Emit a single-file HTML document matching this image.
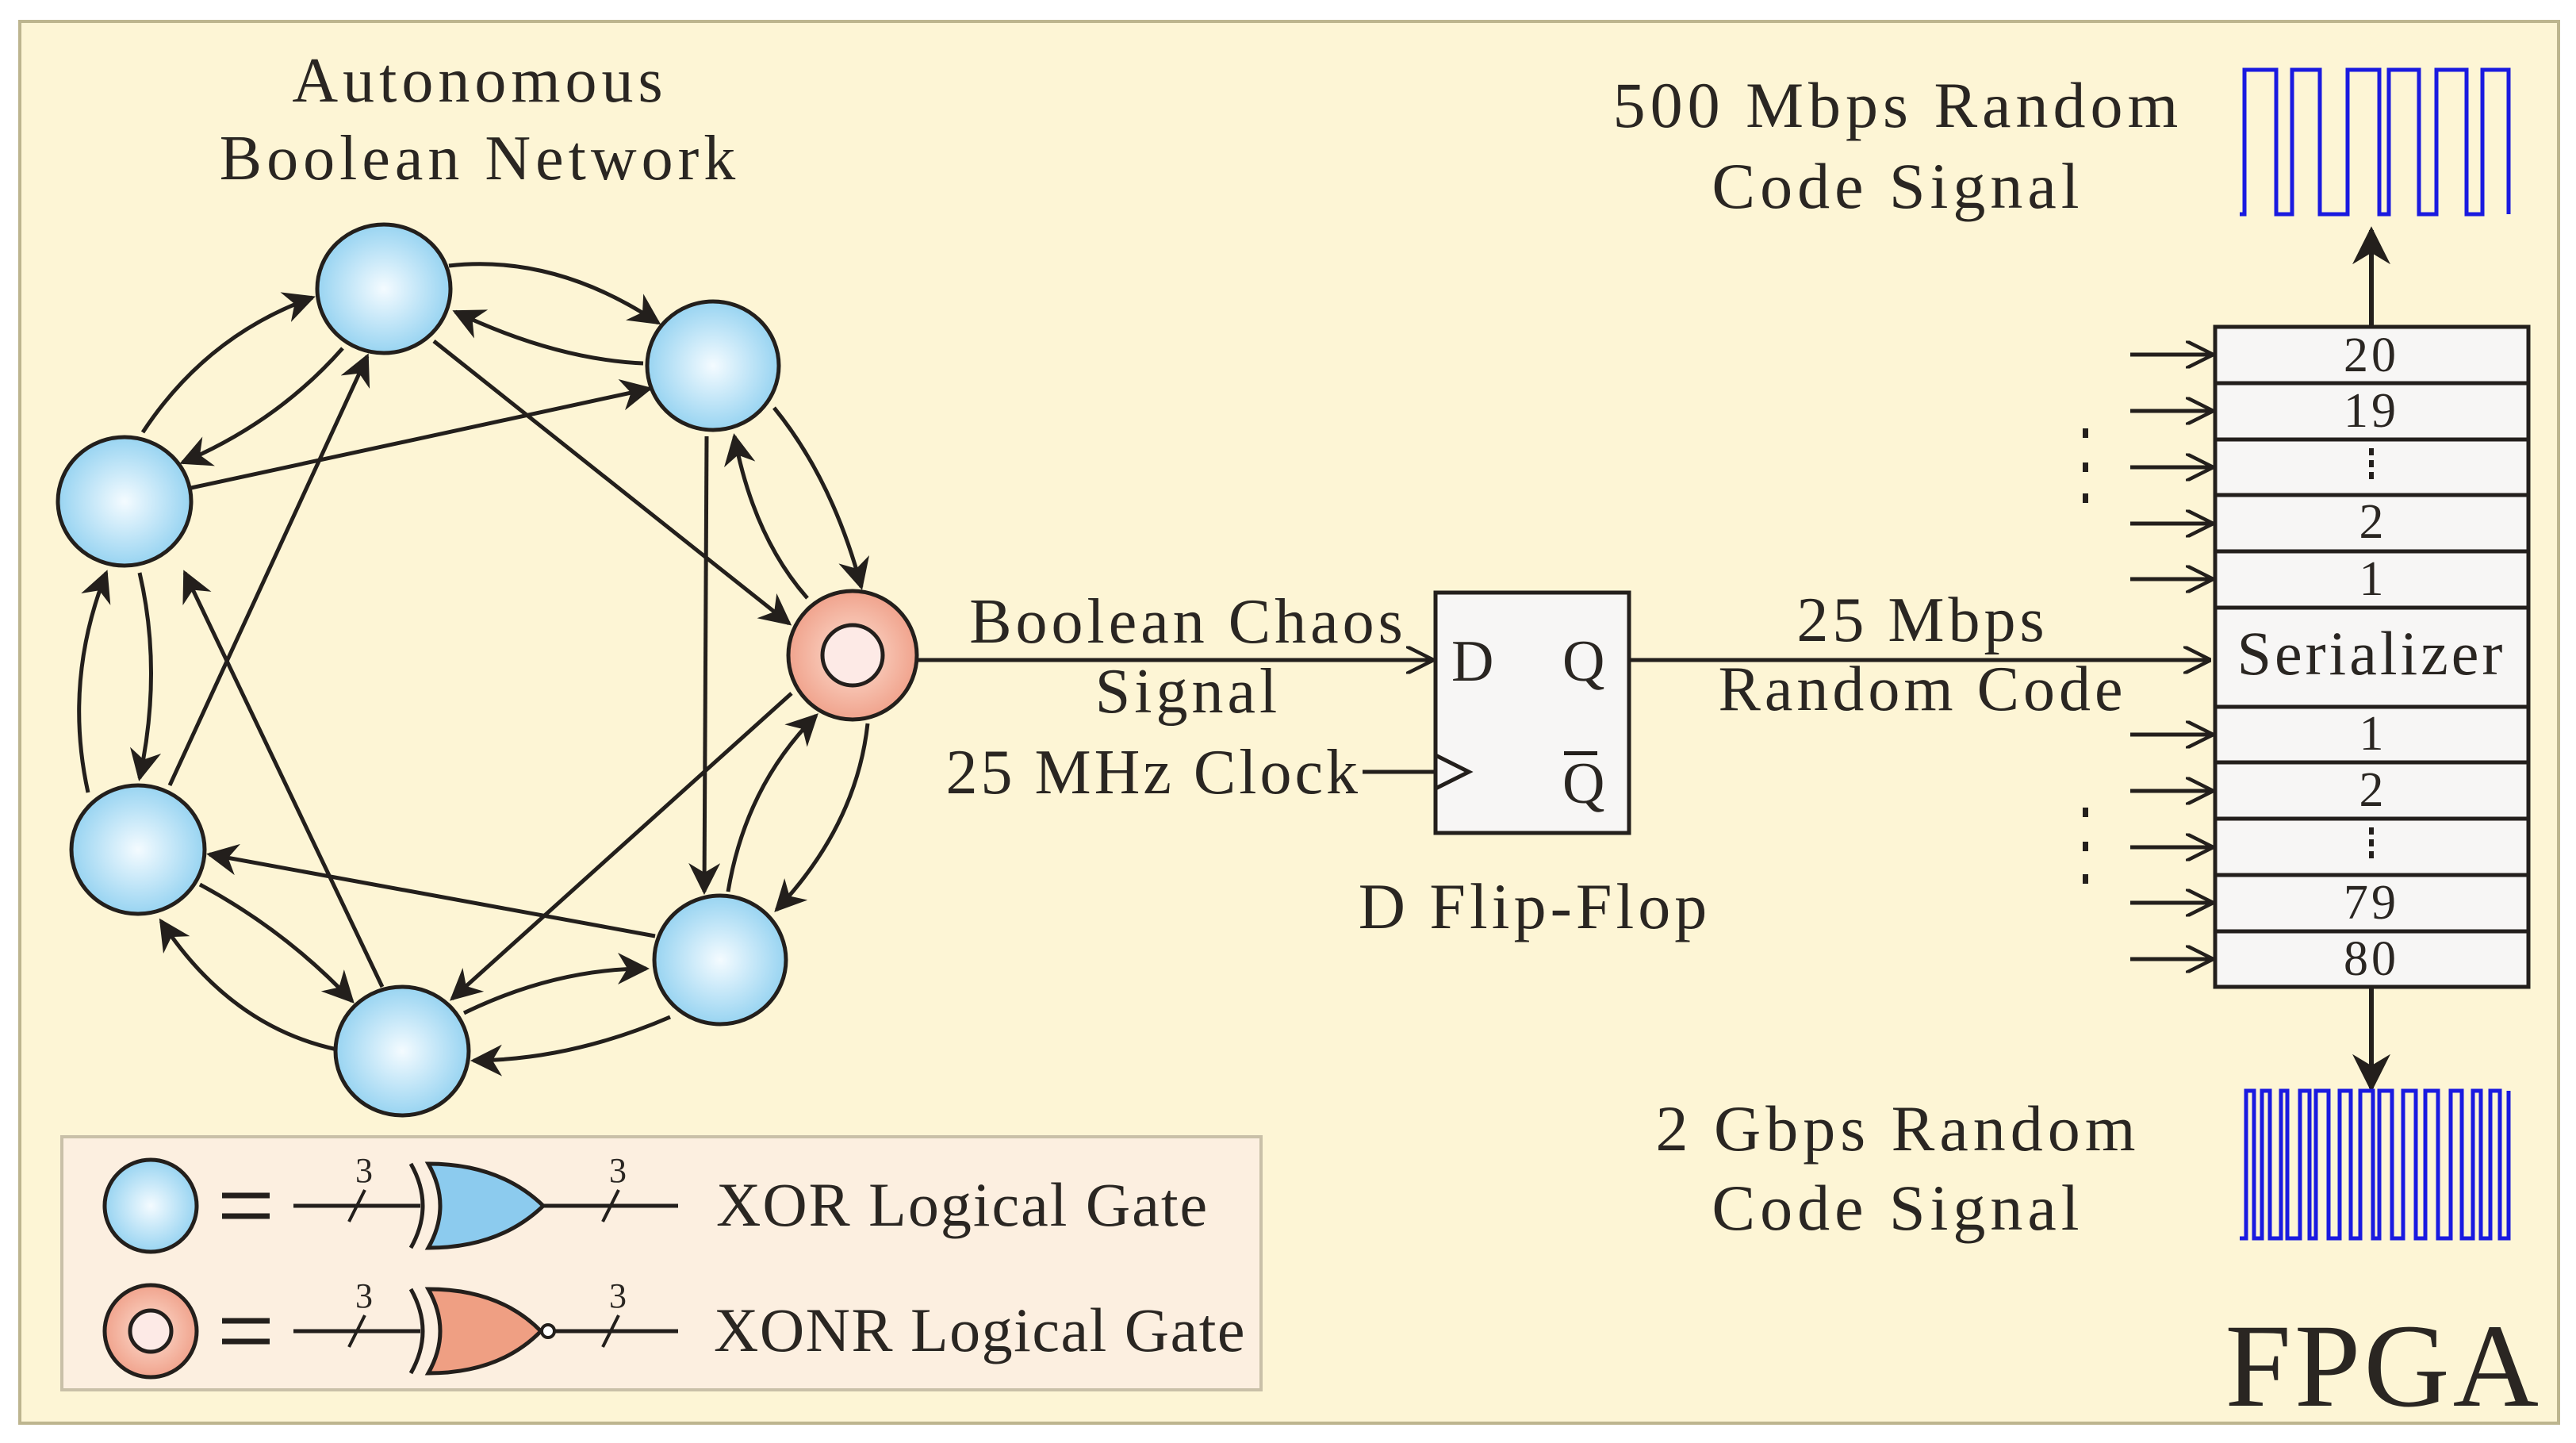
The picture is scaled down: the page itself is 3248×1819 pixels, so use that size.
<!DOCTYPE html>
<html><head><meta charset="utf-8"><style>
html,body{margin:0;padding:0;background:#fff}
svg{display:block}
text{font-family:"Liberation Serif",serif;fill:#2a2622}
</style></head><body>
<svg width="3248" height="1819" viewBox="0 0 3248 1819" xmlns="http://www.w3.org/2000/svg">
<defs>
<radialGradient id="gb" cx="0.5" cy="0.5" r="0.55"><stop offset="0" stop-color="#f4fbff"/><stop offset="1" stop-color="#8fd0f0"/></radialGradient>
<radialGradient id="gr" cx="0.5" cy="0.5" r="0.55"><stop offset="0" stop-color="#fde0d2"/><stop offset="1" stop-color="#ef9d86"/></radialGradient>
<marker id="ah" viewBox="0 0 10 10" refX="9" refY="5" markerWidth="8" markerHeight="8" markerUnits="strokeWidth" orient="auto"><path d="M0,0 L10,5 L0,10 L3,5 Z" fill="#231f1c"/></marker>
<marker id="oa" viewBox="0 0 10 10" refX="9.5" refY="5" markerWidth="7" markerHeight="7" markerUnits="strokeWidth" orient="auto"><path d="M0,0 L10,5 L0,10" fill="none" stroke="#231f1c" stroke-width="1.3"/></marker>
</defs>
<rect x="25" y="27" width="3201" height="1767" fill="#fdf5d5" stroke="#bdb58f" stroke-width="4"/>

<text x="605" y="128" font-size="80" text-anchor="middle" letter-spacing="6">Autonomous</text>
<text x="605" y="226" font-size="80" text-anchor="middle" letter-spacing="6">Boolean Network</text>

<g fill="none" stroke="#231f1c" stroke-width="5" marker-end="url(#ah)">
<path d="M566,335 Q700,320 830,407"/>
<path d="M811,458 Q700,453 574,393"/>
<path d="M180,545 Q260,423 394,375"/>
<path d="M432,439 Q350,532 230,583"/>
<path d="M241,615 L819,490"/>
<path d="M547,430 L995,786"/>
<path d="M976,514 Q1050,605 1086,740"/>
<path d="M1018,754 Q950,677 926,550"/>
<path d="M891,550 L888,1124"/>
<path d="M1094,912 Q1080,1040 979,1147"/>
<path d="M918,1124 Q940,991 1029,902"/>
<path d="M998,874 L570,1259"/>
<path d="M826,1180 L264,1077"/>
<path d="M482,1244 L233,722"/>
<path d="M214,990 L463,449"/>
<path d="M176,722 Q205,846 176,981"/>
<path d="M111,999 Q80,858 134,722"/>
<path d="M252,1115 Q360,1173 444,1262"/>
<path d="M425,1323 Q290,1294 203,1161"/>
<path d="M585,1277 Q700,1221 815,1221"/>
<path d="M845,1282 Q720,1336 597,1337"/>
</g>

<g stroke="#231f1c" stroke-width="5">
<ellipse cx="484" cy="364" rx="84" ry="81" fill="url(#gb)"/>
<ellipse cx="899" cy="461" rx="83" ry="81" fill="url(#gb)"/>
<ellipse cx="157" cy="632" rx="84" ry="81" fill="url(#gb)"/>
<ellipse cx="174" cy="1071" rx="84" ry="81" fill="url(#gb)"/>
<ellipse cx="908" cy="1210" rx="83" ry="81" fill="url(#gb)"/>
<ellipse cx="507" cy="1325" rx="84" ry="81" fill="url(#gb)"/>
<ellipse cx="1075" cy="826" rx="81" ry="81" fill="url(#gr)"/>
<ellipse cx="1075" cy="826" rx="38" ry="38" fill="#fdeae6"/>
</g>

<!-- Legend -->
<rect x="78" y="1433" width="1512" height="319" fill="#fcefe0" stroke="#c9c0a8" stroke-width="4"/>
<g stroke="#231f1c" stroke-width="5">
<ellipse cx="190" cy="1520" rx="58" ry="58" fill="url(#gb)"/>
<ellipse cx="190" cy="1678" rx="58" ry="58" fill="url(#gr)"/>
<ellipse cx="190" cy="1678" rx="26" ry="26" fill="#fdeae6"/>
<path d="M280,1507 h60 M280,1533 h60 M280,1665 h60 M280,1691 h60" stroke-width="7"/>
<path d="M370,1520 h160 M685,1520 h170 M370,1678 h160 M700,1678 h155"/>
<path d="M440,1540 l20,-40 M760,1540 l20,-40 M440,1698 l20,-40 M760,1698 l20,-40" stroke-width="4"/>
<path d="M518,1467 Q548,1520 518,1573 M518,1625 Q548,1678 518,1731" fill="none"/>
<path d="M540,1467 Q630,1467 685,1520 Q630,1573 540,1573 Q570,1520 540,1467 Z" fill="#8ccbee"/>
<path d="M540,1625 Q630,1625 682,1678 Q630,1731 540,1731 Q570,1678 540,1625 Z" fill="#ef9f83"/>
<circle cx="691" cy="1678" r="8" fill="#fff" stroke-width="4"/>
</g>
<text x="448" y="1490" font-size="44">3</text><text x="768" y="1490" font-size="44">3</text>
<text x="448" y="1648" font-size="44">3</text><text x="768" y="1648" font-size="44">3</text>
<text x="903" y="1545" font-size="78" letter-spacing="2">XOR  Logical Gate</text>
<text x="900" y="1703" font-size="78" letter-spacing="1.5">XONR Logical Gate</text>

<!-- Flip flop -->
<rect x="1810" y="747" width="244" height="303" fill="#f7f6f5" stroke="#231f1c" stroke-width="5"/>
<g fill="none" stroke="#231f1c" stroke-width="5">
<path d="M1155,832 L1806,832" marker-end="url(#oa)"/>
<path d="M1718,973 L1810,973"/>
<path d="M1810,952 L1852,973 L1810,994"/>
<path d="M2054,832 L2786,832" marker-end="url(#oa)"/>
</g>
<text x="1830" y="858" font-size="74">D</text>
<text x="1970" y="858" font-size="74">Q</text>
<text x="1970" y="1012" font-size="74">Q</text>
<rect x="1972" y="947" width="42" height="5" fill="#231f1c"/>
<text x="1498" y="810" font-size="80" text-anchor="middle" letter-spacing="5">Boolean Chaos</text>
<text x="1498" y="898" font-size="80" text-anchor="middle" letter-spacing="5">Signal</text>
<text x="1716" y="1000" font-size="80" text-anchor="end" letter-spacing="4">25 MHz Clock</text>
<text x="1935" y="1170" font-size="82" text-anchor="middle" letter-spacing="5">D  Flip-Flop</text>
<text x="2424" y="808" font-size="80" text-anchor="middle" letter-spacing="5">25 Mbps</text>
<text x="2424" y="895" font-size="80" text-anchor="middle" letter-spacing="5">Random Code</text>

<!-- Serializer -->
<g stroke="#231f1c" stroke-width="5">
<rect x="2793" y="412" width="395" height="832" fill="#f7f6f5"/>
<path d="M2793,483 h395 M2793,554 h395 M2793,624 h395 M2793,695 h395 M2793,766 h395 M2793,891 h395 M2793,961 h395 M2793,1032 h395 M2793,1103 h395 M2793,1174 h395"/>
</g>
<g font-size="62" text-anchor="middle">
<text x="2990" y="468" letter-spacing="4">20</text><text x="2990" y="538" letter-spacing="4">19</text>
<text x="2990" y="678">2</text><text x="2990" y="750">1</text>
<text x="2990" y="850" font-size="78" letter-spacing="4">Serializer</text>
<text x="2990" y="945">1</text><text x="2990" y="1016">2</text>
<text x="2990" y="1158" letter-spacing="4">79</text><text x="2990" y="1229" letter-spacing="4">80</text>
</g>
<g fill="#231f1c">
<rect x="2987" y="565" width="6" height="9"/><rect x="2987" y="580" width="6" height="9"/><rect x="2987" y="595" width="6" height="9"/>
<rect x="2987" y="1043" width="6" height="9"/><rect x="2987" y="1058" width="6" height="9"/><rect x="2987" y="1073" width="6" height="9"/>
<rect x="2626" y="540" width="7" height="12"/><rect x="2626" y="583" width="7" height="12"/><rect x="2626" y="622" width="7" height="12"/>
<rect x="2626" y="1018" width="7" height="12"/><rect x="2626" y="1061" width="7" height="12"/><rect x="2626" y="1102" width="7" height="12"/>
</g>
<g fill="none" stroke="#231f1c" stroke-width="5" marker-end="url(#oa)">
<path d="M2686,447 h103"/><path d="M2686,518 h103"/><path d="M2686,589 h103"/><path d="M2686,660 h103"/><path d="M2686,730 h103"/>
<path d="M2686,926 h103"/><path d="M2686,997 h103"/><path d="M2686,1068 h103"/><path d="M2686,1138 h103"/><path d="M2686,1209 h103"/>
</g>
<g fill="none" stroke="#231f1c" stroke-width="6" marker-end="url(#ah)">
<path d="M2990,412 L2990,290"/>
<path d="M2990,1244 L2990,1372"/>
</g>

<!-- waveforms -->
<polyline fill="none" stroke="#1a1ae0" stroke-width="5" points="2824,270 2830,270 2830,88 2870,88 2870,270 2890,270 2890,88 2925,88 2925,270 2960,270 2960,88 3000,88 3000,270 3012,270 3012,88 3050,88 3050,270 3072,270 3072,88 3110,88 3110,270 3130,270 3130,88 3163,88 3163,270"/>
<polyline fill="none" stroke="#1a1ae0" stroke-width="5" points="2824,1561 2832,1561 2832,1375 2842,1375 2842,1561 2852,1561 2852,1375 2862,1375 2862,1561 2876,1561 2876,1375 2884,1375 2884,1561 2900,1561 2900,1375 2912,1375 2912,1561 2920,1561 2920,1375 2936,1375 2936,1561 2950,1561 2950,1375 2964,1375 2964,1561 2976,1561 2976,1375 2992,1375 2992,1561 3000,1561 3000,1375 3016,1375 3016,1561 3030,1561 3030,1375 3046,1375 3046,1561 3058,1561 3058,1375 3074,1375 3074,1561 3090,1561 3090,1375 3104,1375 3104,1561 3118,1561 3118,1375 3128,1375 3128,1561 3140,1561 3140,1375 3152,1375 3152,1561 3163,1561 3163,1375"/>

<text x="2393" y="160" font-size="82" text-anchor="middle" letter-spacing="6">500 Mbps Random</text>
<text x="2393" y="262" font-size="82" text-anchor="middle" letter-spacing="6">Code Signal</text>
<text x="2393" y="1450" font-size="82" text-anchor="middle" letter-spacing="6">2 Gbps Random</text>
<text x="2393" y="1550" font-size="82" text-anchor="middle" letter-spacing="6">Code Signal</text>
<text x="3205" y="1772" font-size="150" text-anchor="end" letter-spacing="4">FPGA</text>
</svg>
</body></html>
